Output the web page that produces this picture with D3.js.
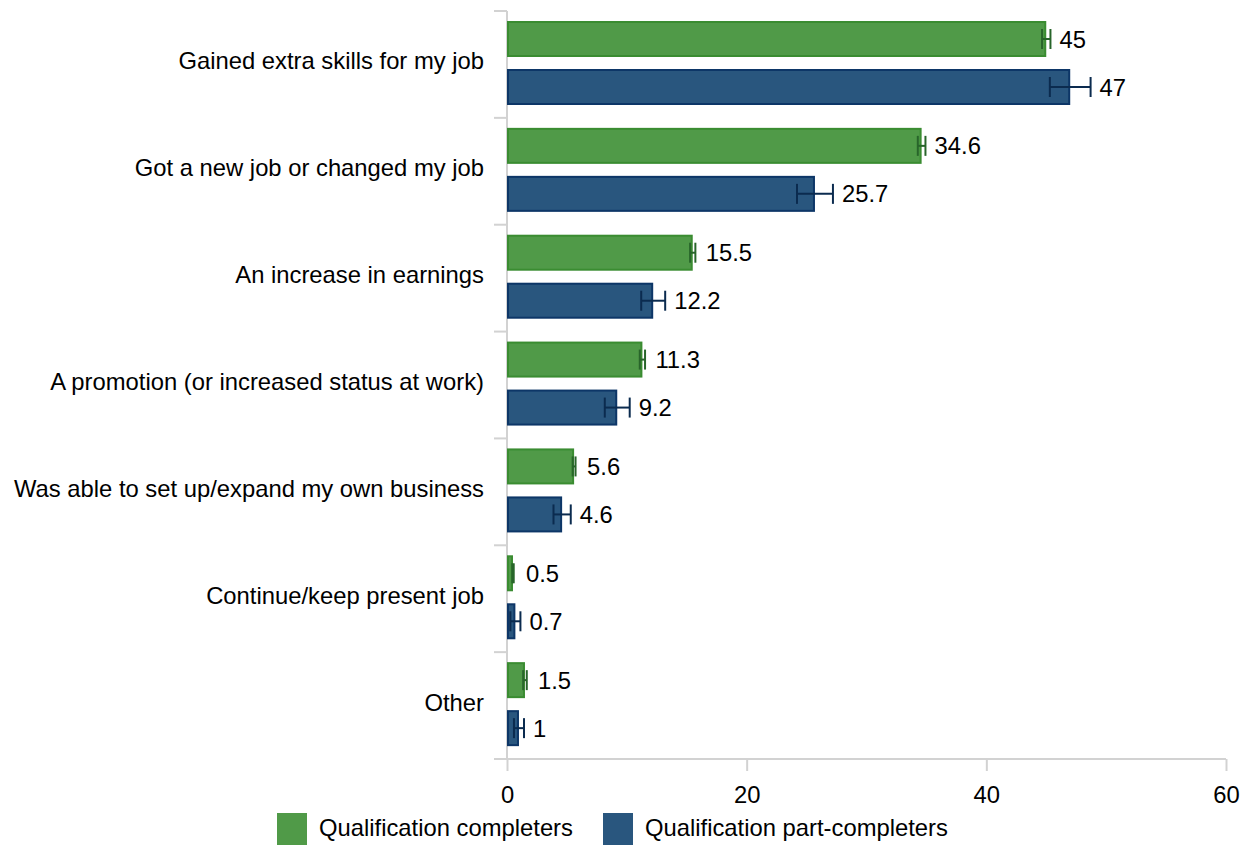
<!DOCTYPE html>
<html>
<head>
<meta charset="utf-8">
<script src="https://cdn.jsdelivr.net/npm/d3@7"></script>
<style>
  html, body { margin: 0; padding: 0; background: #fff; }
  svg { display: block; font-family: "Liberation Sans", Arial, sans-serif; }
</style>
</head>
<body>
<svg id="chart" width="1242" height="845"></svg>
<script>
// Outcomes reported after the qualification (percent of respondents)
const categories = [
  "Gained extra skills for my job",
  "Got a new job or changed my job",
  "An increase in earnings",
  "A promotion (or increased status at work)",
  "Was able to set up/expand my own business",
  "Continue/keep present job",
  "Other"
];
const seriesNames = ["Qualification completers", "Qualification part-completers"];
const completers = [45, 34.6, 15.5, 11.3, 5.6, 0.5, 1.5];
const partCompleters = [47, 25.7, 12.2, 9.2, 4.6, 0.7, 1];
// half-width of the confidence interval around each value
const completersErr = [0.35, 0.32, 0.22, 0.22, 0.12, 0.06, 0.15];
const partCompletersErr = [1.7, 1.5, 1.0, 1.04, 0.72, 0.42, 0.42];
const xTicks = [0, 20, 40, 60];

const colors = {
  fill: ["#509a48", "#29567e"],
  stroke: ["#3a8c31", "#0d3667"],
  err: ["#28652a", "#0b2b4f"]
};

const svg = d3.select("#chart");
const m = { left: 507, right: 16, top: 11, bottom: 86 };
const W = 1242, H = 845;

const x = d3.scaleLinear().domain([0, 60]).range([m.left, W - m.right]);
const y = d3.scaleBand().domain(categories).range([m.top, H - m.bottom]).padding(0);
const ySub = d3.scaleBand().domain(seriesNames).range([10, 94]).paddingInner(0.25);

const rows = categories.map((c, i) => ({
  cat: c,
  vals: [
    { s: seriesNames[0], k: 0, v: completers[i], e: completersErr[i] },
    { s: seriesNames[1], k: 1, v: partCompleters[i], e: partCompletersErr[i] }
  ]
}));

const axisColor = "#d2d2d2";

// category axis: vertical line with boundary ticks
const yAxisG = svg.append("g");
yAxisG.append("line")
  .attr("x1", x(0)).attr("x2", x(0))
  .attr("y1", y.range()[0]).attr("y2", y.range()[1])
  .attr("stroke", axisColor).attr("stroke-width", 2);
const bounds = categories.map(c => y(c)).concat([y.range()[1]]);
yAxisG.selectAll("line.b").data(bounds).join("line")
  .attr("class", "b")
  .attr("x1", x(0) - 13).attr("x2", x(0))
  .attr("y1", d => d).attr("y2", d => d)
  .attr("stroke", axisColor).attr("stroke-width", 2);
yAxisG.selectAll("text").data(categories).join("text")
  .attr("x", 484)
  .attr("y", d => y(d) + y.bandwidth() / 2 + 5)
  .attr("text-anchor", "end")
  .attr("font-size", 23.8)
  .attr("fill", "#000")
  .text(d => d);

// value axis along the bottom
const xAxis = d3.axisBottom(x).tickValues(xTicks).tickSize(12).tickPadding(15).tickFormat(d3.format("d"));
const xAxisG = svg.append("g")
  .attr("transform", `translate(0,${y.range()[1]})`)
  .call(xAxis);
xAxisG.select(".domain").remove();
xAxisG.insert("line", ":first-child")
  .attr("x1", x(0) - 13).attr("x2", x(60))
  .attr("y1", 0).attr("y2", 0)
  .attr("stroke", axisColor).attr("stroke-width", 2);
xAxisG.selectAll(".tick line").attr("stroke", axisColor).attr("stroke-width", 2);
xAxisG.selectAll(".tick text")
  .attr("font-size", 23.8)
  .attr("fill", "#000")
  .attr("font-family", "Liberation Sans, Arial, sans-serif");

// bars, error bars and value labels
const groups = svg.append("g").selectAll("g").data(rows).join("g")
  .attr("transform", d => `translate(0,${y(d.cat)})`);

groups.selectAll("rect").data(d => d.vals).join("rect")
  .attr("x", x(0) + 1)
  .attr("y", d => ySub(d.s) + 1)
  .attr("width", d => Math.max(0, x(d.v) - x(0) - 2))
  .attr("height", ySub.bandwidth() - 2)
  .attr("fill", d => colors.fill[d.k])
  .attr("stroke", d => colors.stroke[d.k])
  .attr("stroke-width", 2);

const eb = groups.selectAll("g.err").data(d => d.vals).join("g").attr("class", "err")
  .attr("stroke", d => colors.err[d.k])
  .attr("stroke-width", 2);
eb.append("line")
  .attr("x1", d => x(d.v - d.e)).attr("x2", d => x(d.v + d.e))
  .attr("y1", d => ySub(d.s) + ySub.bandwidth() / 2)
  .attr("y2", d => ySub(d.s) + ySub.bandwidth() / 2);
eb.selectAll("line.cap").data(d => [[d, d.v - d.e], [d, d.v + d.e]]).join("line")
  .attr("class", "cap")
  .attr("x1", p => x(p[1])).attr("x2", p => x(p[1]))
  .attr("y1", p => ySub(p[0].s) + ySub.bandwidth() / 2 - 10)
  .attr("y2", p => ySub(p[0].s) + ySub.bandwidth() / 2 + 10);

groups.selectAll("text").data(d => d.vals).join("text")
  .attr("x", d => Math.max(x(d.v) + 13, x(d.v + d.e) + 9))
  .attr("y", d => ySub(d.s) + ySub.bandwidth() / 2 + 8.5)
  .attr("font-size", 23.8)
  .attr("fill", "#000")
  .text(d => d.v);

// legend
const legendX = [277, 603];
const lg = svg.append("g").selectAll("g").data(seriesNames).join("g")
  .attr("transform", (d, i) => `translate(${legendX[i]},813)`);
lg.append("rect")
  .attr("width", 30).attr("height", 32)
  .attr("fill", (d, i) => colors.fill[i]);
lg.append("text")
  .attr("x", 42).attr("y", 23)
  .attr("font-size", 23.8)
  .attr("fill", "#000")
  .text(d => d);
</script>
</body>
</html>
